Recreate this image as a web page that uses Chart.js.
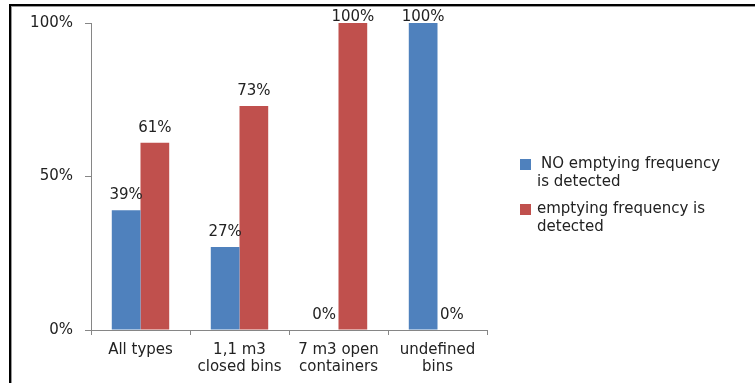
<!DOCTYPE html>
<html>
<head>
<meta charset="utf-8">
<script src="https://cdn.jsdelivr.net/npm/chart.js@4/dist/chart.umd.min.js"></script>
<style>
  html, body { margin: 0; padding: 0; background: #fff; }
  #wrap { position: relative; width: 755px; height: 383px; }
  #frame { position: absolute; left: 9px; top: 4px; right: 0; bottom: 0;
           border-left: 2px solid #000; border-top: 2px solid #000; }
  #frame2 { position: absolute; left: 11px; top: 6px; right: 0; bottom: 0;
           border-left: 1px solid #999; border-top: 1px solid #999; }
  canvas { position: absolute; left: 0; top: 0; }
</style>
</head>
<body>
<div id="wrap">
  <div id="frame"></div>
  <div id="frame2"></div>
  <canvas id="c" width="755" height="383"></canvas>
</div>
<script>
const categories = [["All types"], ["1,1 m3", "closed bins"], ["7 m3 open", "containers"], ["undefined", "bins"]];
const noFrequency = [39, 27, 0, 100];
const withFrequency = [61, 73, 100, 0];
const seriesNames = [["NO emptying frequency", "is detected"], ["emptying frequency is", "detected"]];
const yTicks = [0, 50, 100];

const FONT = "'DejaVu Sans', Verdana, sans-serif";
const FONT_SIZE = 15;
const BLUE = "#4F81BD";
const RED = "#C0504D";

// value text over each bar, kept inside the top of the canvas
const valueLabels = {
  id: "valueLabels",
  afterDatasetsDraw(chart) {
    const ctx = chart.ctx;
    ctx.save();
    ctx.font = FONT_SIZE + "px " + FONT;
    ctx.fillStyle = "#222";
    ctx.textAlign = "center";
    ctx.textBaseline = "middle";
    chart.data.datasets.forEach((ds, i) => {
      chart.getDatasetMeta(i).data.forEach((bar, j) => {
        ctx.fillText(ds.data[j] + "%", bar.x, Math.max(bar.y - 15, 17));
      });
    });
    ctx.restore();
  }
};

// two-line legend entries at the right
const sideLegend = {
  id: "sideLegend",
  afterDraw(chart) {
    const ctx = chart.ctx;
    ctx.save();
    ctx.font = FONT_SIZE + "px " + FONT;
    ctx.textBaseline = "middle";
    const colors = [BLUE, RED];
    const tops = [164, 209];
    seriesNames.forEach((lines, i) => {
      ctx.fillStyle = colors[i];
      ctx.fillRect(520, tops[i] - 5, 11, 11);
      ctx.fillStyle = "#222";
      lines.forEach((t, k) => {
        const x = (i === 0 && k === 0) ? 541 : 537;
        ctx.fillText(t, x, tops[i] + k * 18);
      });
    });
    ctx.restore();
  }
};

new Chart(document.getElementById("c"), {
  type: "bar",
  data: {
    labels: categories,
    datasets: [
      { label: seriesNames[0].join(" "), data: noFrequency, backgroundColor: BLUE,
        barPercentage: 1.0, categoryPercentage: 0.58 },
      { label: seriesNames[1].join(" "), data: withFrequency, backgroundColor: RED,
        barPercentage: 1.0, categoryPercentage: 0.58 }
    ]
  },
  options: {
    responsive: false,
    animation: false,
    devicePixelRatio: 1,
    layout: { padding: { left: 12, right: 268, top: 23, bottom: 0 } },
    plugins: { legend: { display: false }, tooltip: { enabled: false } },
    scales: {
      x: {
        grid: { display: true, drawOnChartArea: false, offset: true, tickLength: 5, color: "#868686" },
        border: { color: "#868686" },
        ticks: { color: "#222", font: { family: FONT, size: FONT_SIZE, lineHeight: 1.1 }, padding: 7, maxRotation: 0 },
        afterFit(s) { s.height = 53; }
      },
      y: {
        min: 0, max: 100,
        afterBuildTicks(s) { s.ticks = yTicks.map(v => ({ value: v })); },
        grid: { display: true, drawOnChartArea: false, tickLength: 6, color: "#868686" },
        border: { color: "#868686" },
        ticks: { color: "#222", font: { family: FONT, size: FONT_SIZE }, padding: 12,
                 callback: v => v + "%" },
        afterFit(s) { s.width = 79; }
      }
    }
  },
  plugins: [valueLabels, sideLegend]
});
</script>
</body>
</html>
